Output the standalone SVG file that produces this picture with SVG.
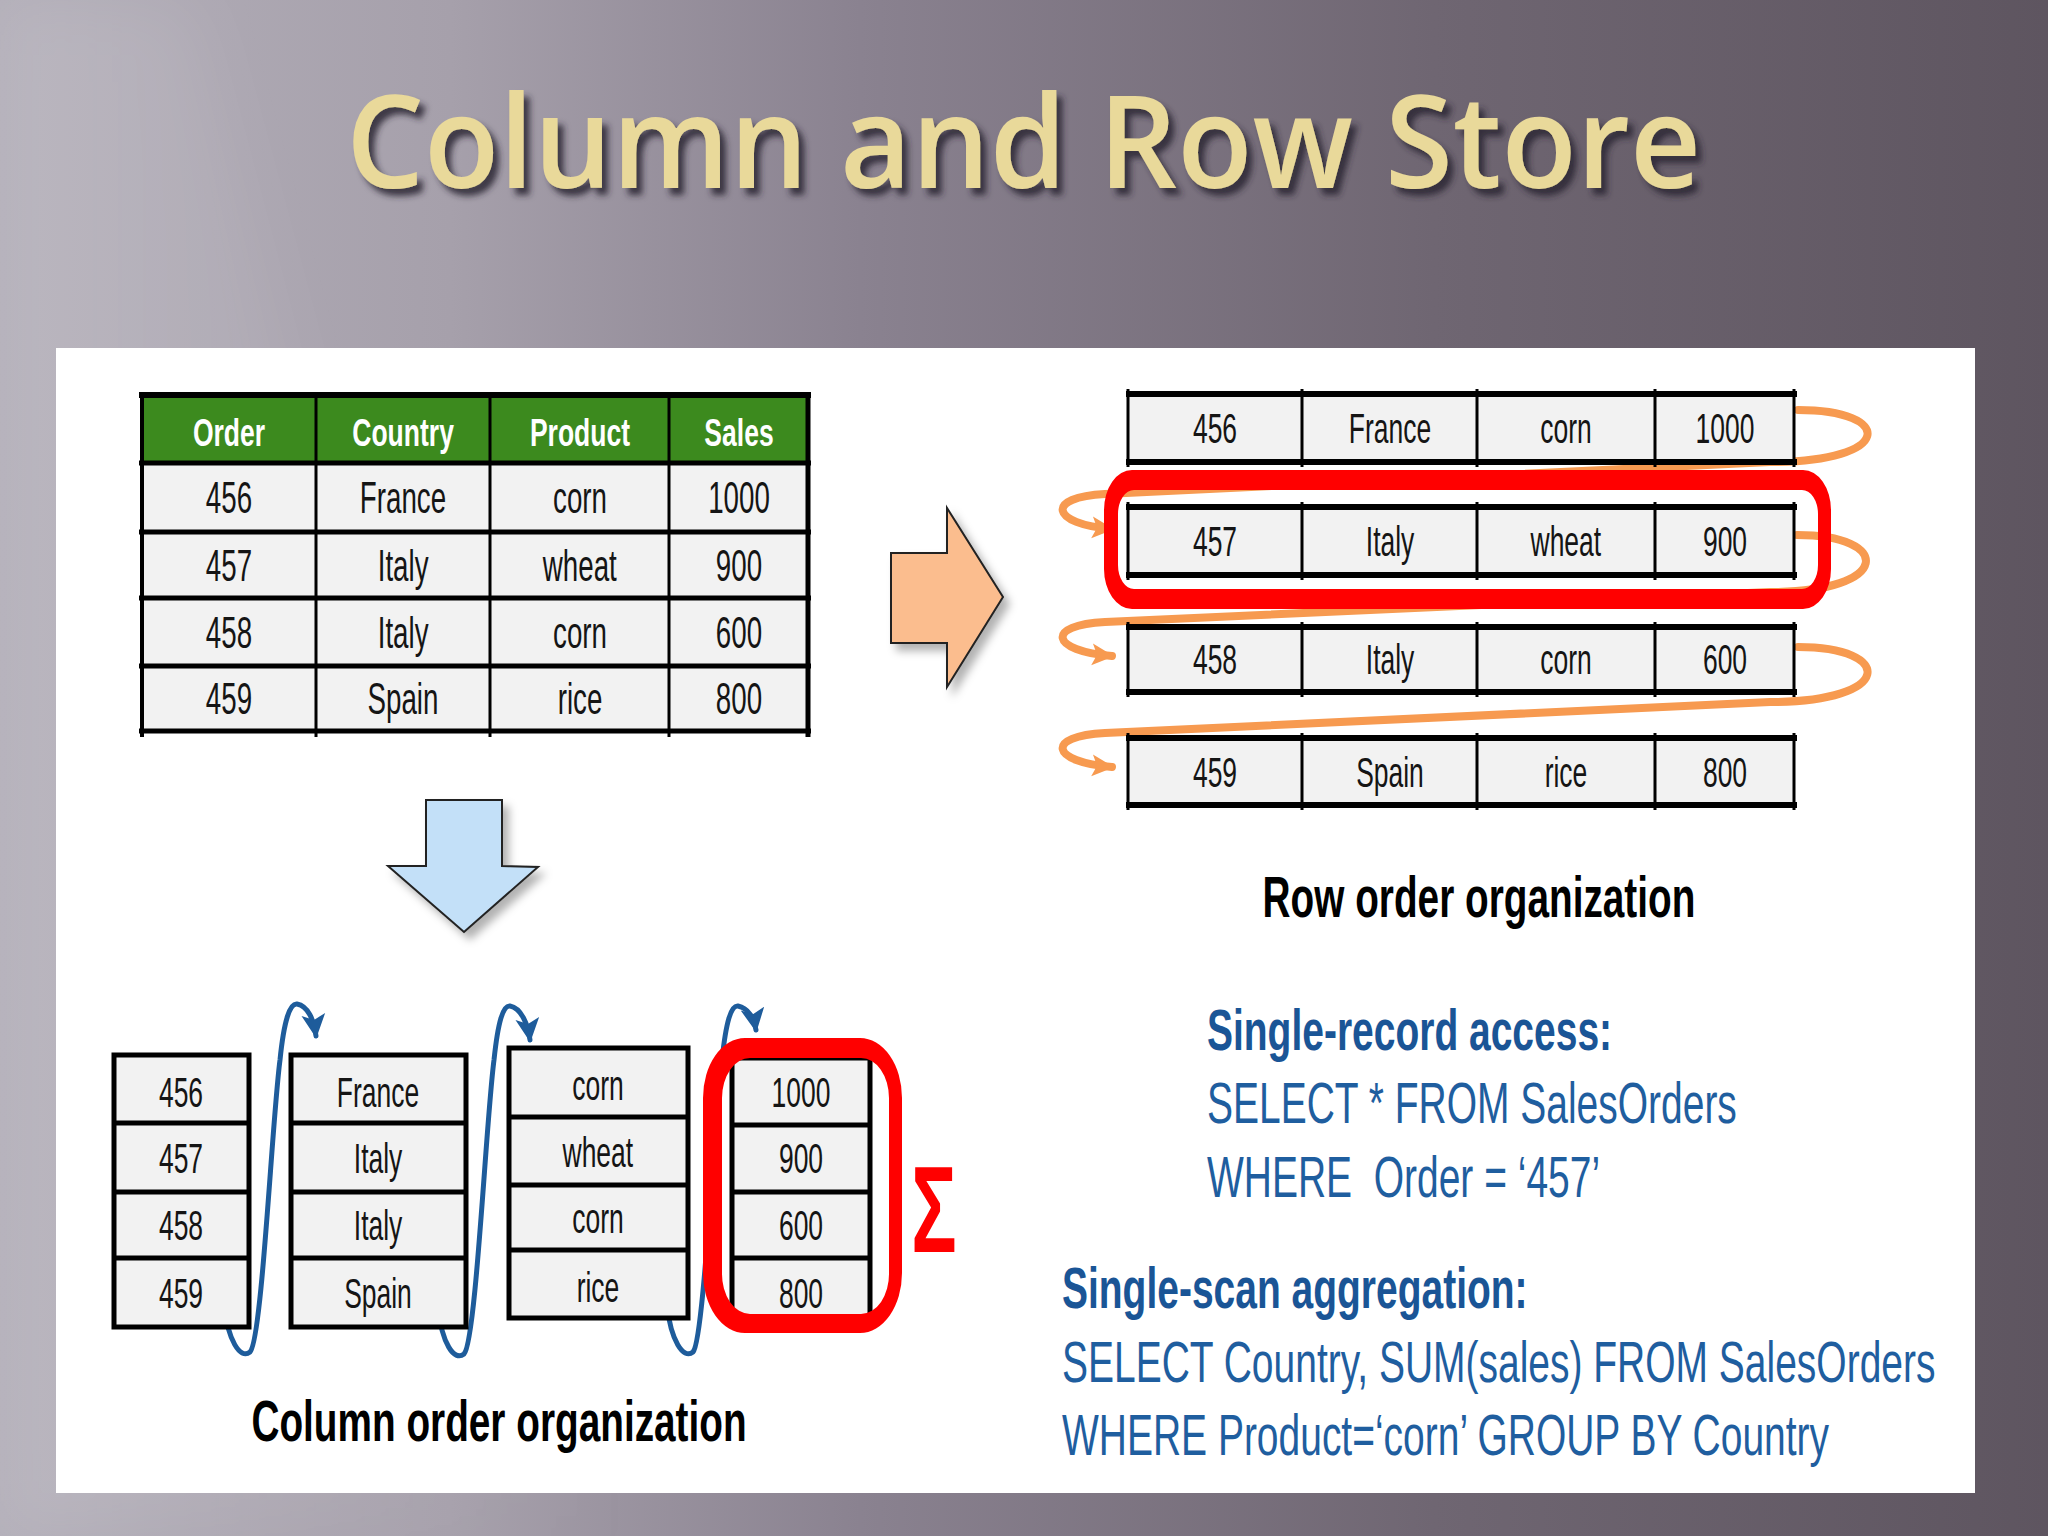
<svg xmlns="http://www.w3.org/2000/svg" width="2048" height="1536" viewBox="0 0 2048 1536">
<defs>
  <linearGradient id="bg" x1="0" y1="0" x2="1" y2="0">
    <stop offset="0" stop-color="#B3AFB9"/>
    <stop offset="0.22" stop-color="#A6A0AB"/>
    <stop offset="0.42" stop-color="#8A8290"/>
    <stop offset="0.7" stop-color="#6F6672"/>
    <stop offset="1" stop-color="#5E5560"/>
  </linearGradient>
  <linearGradient id="band" x1="0" y1="0" x2="1" y2="0">
    <stop offset="0" stop-color="#FFFFFF" stop-opacity="0.10"/>
    <stop offset="1" stop-color="#FFFFFF" stop-opacity="0"/>
  </linearGradient>
  <filter id="blur" x="-20%" y="-20%" width="140%" height="140%"><feGaussianBlur stdDeviation="30"/></filter>
  <filter id="tshadow" x="-5%" y="-20%" width="110%" height="150%">
    <feDropShadow dx="6" dy="7" stdDeviation="3" flood-color="#2A2530" flood-opacity="0.85"/>
  </filter>
  <filter id="ashadow" x="-30%" y="-30%" width="160%" height="160%">
    <feDropShadow dx="6" dy="7" stdDeviation="4" flood-color="#000" flood-opacity="0.3"/>
  </filter>
  <marker id="oarrow" viewBox="0 0 24 24" refX="20" refY="12" markerWidth="24" markerHeight="24" markerUnits="userSpaceOnUse" orient="auto">
    <path d="M0,1 L22,12 L0,23 L5,12 Z" fill="#F79A50"/>
  </marker>
  <marker id="barrow" viewBox="0 0 24 24" refX="20" refY="12" markerWidth="26" markerHeight="26" markerUnits="userSpaceOnUse" orient="auto">
    <path d="M0,1 L22,12 L0,23 L5,12 Z" fill="#1E5C9B"/>
  </marker>
  <style>
    .t { font-family: "Liberation Sans", Arial, sans-serif; transform-box: fill-box; }
    .cell { font-size: 42px; fill: #151515; text-anchor: middle; transform-origin: center; transform: scaleX(0.63); }
    .big { font-size: 44px; }
    .hdr { font-size: 39px; font-weight: bold; fill: #FFFFFF; text-anchor: middle; transform-origin: center; transform: scaleX(0.68); }
    .cap { font-size: 57px; font-weight: bold; fill: #000; text-anchor: middle; transform-origin: center; transform: scaleX(0.68); }
    .sql { font-size: 58px; fill: #1F5E9F; transform-origin: left center; transform: scaleX(0.672); }
    .sqlb { font-weight: bold; fill: #1A5596; }
    .rowfill { fill: #F2F2F2; }
    .hl { stroke: #000; stroke-width: 6; }
    .vl { stroke: #000; stroke-width: 3; }
    .box { fill: #F2F2F2; stroke: #000; stroke-width: 5; }
    .sep { stroke: #000; stroke-width: 5; }
    .oc { fill: none; stroke: #F79A50; stroke-width: 8; stroke-linecap: round; }
    .bc { fill: none; stroke: #1E5C9B; stroke-width: 5; stroke-linecap: round; }
    .ring { fill: #FF0000; fill-rule: evenodd; }
  </style>
</defs>

<!-- background -->
<rect x="0" y="0" width="2048" height="1536" fill="url(#bg)"/>
<polygon points="0,0 190,0 620,1536 0,1536" fill="url(#band)" filter="url(#blur)"/>

<!-- title -->
<text x="346" y="188" textLength="1355" lengthAdjust="spacingAndGlyphs" font-family="'Open Sans', 'Liberation Sans', sans-serif" font-weight="600" font-size="128" fill="#E9D99A" filter="url(#tshadow)">Column and Row Store</text>

<!-- white panel -->
<rect x="56" y="348" width="1919" height="1145" fill="#FFFFFF"/>

<!-- connectors -->
<g id="connectors">
  <path class="oc" d="M1798,410 C1895,410 1895,462 1770,462 L1105,494 C1045,497 1050,524 1112,529" marker-end="url(#oarrow)"/>
  <path class="oc" d="M1797,535 C1893,535 1893,592 1770,592 L1105,622 C1045,625 1050,651 1112,656" marker-end="url(#oarrow)"/>
  <path class="oc" d="M1798,647 C1895,647 1895,702 1770,702 L1105,733 C1045,736 1050,762 1112,767" marker-end="url(#oarrow)"/>
  <path class="bc" d="M224,1305 C228,1340 240,1360 250,1352 C262,1340 272,1120 280,1060 C284,1020 290,1003 297,1004 C308,1006 314,1020 316,1036" marker-end="url(#barrow)"/>
  <path class="bc" d="M438,1308 C442,1343 454,1362 464,1354 C476,1342 486,1120 494,1060 C498,1022 503,1005 510,1006 C521,1008 528,1024 530,1040" marker-end="url(#barrow)"/>
  <path class="bc" d="M667,1306 C671,1340 683,1360 693,1352 C704,1340 714,1120 722,1060 C726,1022 731,1005 738,1006 C748,1008 754,1018 756,1030" marker-end="url(#barrow)"/>
</g>

<!-- source table -->
<g id="source-table">
  <rect x="141" y="395" width="667" height="68" fill="#3C8A1E"/>
  <rect x="141" y="463" width="667" height="268" class="rowfill"/>
  <line class="hl" x1="139" y1="395" x2="811" y2="395"/>
  <line class="hl" x1="139" y1="463" x2="811" y2="463" style="stroke-width:5"/>
  <line class="hl" x1="139" y1="532" x2="811" y2="532" style="stroke-width:5"/>
  <line class="hl" x1="139" y1="598" x2="811" y2="598" style="stroke-width:5"/>
  <line class="hl" x1="139" y1="666" x2="811" y2="666" style="stroke-width:5"/>
  <line class="hl" x1="139" y1="731" x2="811" y2="731" style="stroke-width:5"/>
  <line class="vl" x1="142" y1="392" x2="142" y2="737" style="stroke-width:4"/>
  <line class="vl" x1="316" y1="392" x2="316" y2="737"/>
  <line class="vl" x1="490" y1="392" x2="490" y2="737"/>
  <line class="vl" x1="669" y1="392" x2="669" y2="737"/>
  <line class="vl" x1="808" y1="392" x2="808" y2="737" style="stroke-width:5"/>
  <text class="t hdr" x="229" y="446">Order</text>
  <text class="t hdr" x="403" y="446">Country</text>
  <text class="t hdr" x="580" y="446">Product</text>
  <text class="t hdr" x="739" y="446">Sales</text>
  <text class="t cell big" x="229" y="513">456</text>
  <text class="t cell big" x="403" y="513">France</text>
  <text class="t cell big" x="580" y="513">corn</text>
  <text class="t cell big" x="739" y="513">1000</text>
  <text class="t cell big" x="229" y="581">457</text>
  <text class="t cell big" x="403" y="581">Italy</text>
  <text class="t cell big" x="580" y="581">wheat</text>
  <text class="t cell big" x="739" y="581">900</text>
  <text class="t cell big" x="229" y="648">458</text>
  <text class="t cell big" x="403" y="648">Italy</text>
  <text class="t cell big" x="580" y="648">corn</text>
  <text class="t cell big" x="739" y="648">600</text>
  <text class="t cell big" x="229" y="714">459</text>
  <text class="t cell big" x="403" y="714">Spain</text>
  <text class="t cell big" x="580" y="714">rice</text>
  <text class="t cell big" x="739" y="714">800</text>
</g>

<!-- transform arrows -->
<g id="arrow-right">
  <polygon points="891,553 947,553 947,508 1003,597 947,687 947,643 891,643" fill="#FBBD8E" stroke="#222" stroke-width="2" filter="url(#ashadow)"/>
</g>
<g id="arrow-down">
  <polygon points="426,800 502,800 502,866 538,867 464,932 388,866 426,866" fill="#C3E0F8" stroke="#222" stroke-width="2" filter="url(#ashadow)"/>
</g>

<!-- row store -->
<g id="row-456">
  <rect x="1128" y="394" width="666" height="68" class="rowfill"/>
  <line class="hl" x1="1126" y1="394" x2="1797" y2="394"/>
  <line class="hl" x1="1126" y1="462" x2="1797" y2="462"/>
  <line class="vl" x1="1128" y1="389" x2="1128" y2="467"/>
  <line class="vl" x1="1302" y1="389" x2="1302" y2="467"/>
  <line class="vl" x1="1477" y1="389" x2="1477" y2="467"/>
  <line class="vl" x1="1655" y1="389" x2="1655" y2="467"/>
  <line class="vl" x1="1794" y1="389" x2="1794" y2="467"/>
  <text class="t cell" x="1215" y="443">456</text>
  <text class="t cell" x="1390" y="443">France</text>
  <text class="t cell" x="1566" y="443">corn</text>
  <text class="t cell" x="1725" y="443">1000</text>
</g>
<g id="row-457">
  <rect x="1128" y="507" width="666" height="68" class="rowfill"/>
  <line class="hl" x1="1126" y1="507" x2="1797" y2="507"/>
  <line class="hl" x1="1126" y1="575" x2="1797" y2="575"/>
  <line class="vl" x1="1128" y1="502" x2="1128" y2="580"/>
  <line class="vl" x1="1302" y1="502" x2="1302" y2="580"/>
  <line class="vl" x1="1477" y1="502" x2="1477" y2="580"/>
  <line class="vl" x1="1655" y1="502" x2="1655" y2="580"/>
  <line class="vl" x1="1794" y1="502" x2="1794" y2="580"/>
  <text class="t cell" x="1215" y="556">457</text>
  <text class="t cell" x="1390" y="556">Italy</text>
  <text class="t cell" x="1566" y="556">wheat</text>
  <text class="t cell" x="1725" y="556">900</text>
</g>
<g id="row-458">
  <rect x="1128" y="627" width="666" height="65" class="rowfill"/>
  <line class="hl" x1="1126" y1="627" x2="1797" y2="627"/>
  <line class="hl" x1="1126" y1="692" x2="1797" y2="692"/>
  <line class="vl" x1="1128" y1="622" x2="1128" y2="697"/>
  <line class="vl" x1="1302" y1="622" x2="1302" y2="697"/>
  <line class="vl" x1="1477" y1="622" x2="1477" y2="697"/>
  <line class="vl" x1="1655" y1="622" x2="1655" y2="697"/>
  <line class="vl" x1="1794" y1="622" x2="1794" y2="697"/>
  <text class="t cell" x="1215" y="674">458</text>
  <text class="t cell" x="1390" y="674">Italy</text>
  <text class="t cell" x="1566" y="674">corn</text>
  <text class="t cell" x="1725" y="674">600</text>
</g>
<g id="row-459">
  <rect x="1128" y="738" width="666" height="67" class="rowfill"/>
  <line class="hl" x1="1126" y1="738" x2="1797" y2="738"/>
  <line class="hl" x1="1126" y1="805" x2="1797" y2="805"/>
  <line class="vl" x1="1128" y1="733" x2="1128" y2="810"/>
  <line class="vl" x1="1302" y1="733" x2="1302" y2="810"/>
  <line class="vl" x1="1477" y1="733" x2="1477" y2="810"/>
  <line class="vl" x1="1655" y1="733" x2="1655" y2="810"/>
  <line class="vl" x1="1794" y1="733" x2="1794" y2="810"/>
  <text class="t cell" x="1215" y="787">459</text>
  <text class="t cell" x="1390" y="787">Spain</text>
  <text class="t cell" x="1566" y="787">rice</text>
  <text class="t cell" x="1725" y="787">800</text>
</g>
<g id="row-highlight">
  <path class="ring" d="M1132,470 H1803 A28,40 0 0 1 1831,510 V569 A28,40 0 0 1 1803,609 H1132 A28,40 0 0 1 1104,569 V510 A28,40 0 0 1 1132,470 Z M1134,490 H1802 A16,24 0 0 1 1818,514 V565 A16,24 0 0 1 1802,589 H1134 A16,24 0 0 1 1118,565 V514 A16,24 0 0 1 1134,490 Z"/>
</g>
<g id="row-caption">
  <text class="t cap" x="1479" y="917">Row order organization</text>
</g>

<!-- column store -->
<g id="col-order">
  <rect x="114" y="1055" width="135" height="272" class="box"/>
  <line class="sep" x1="114" y1="1123" x2="249" y2="1123"/>
  <line class="sep" x1="114" y1="1192" x2="249" y2="1192"/>
  <line class="sep" x1="114" y1="1258" x2="249" y2="1258"/>
  <text class="t cell" x="181" y="1107">456</text>
  <text class="t cell" x="181" y="1173">457</text>
  <text class="t cell" x="181" y="1240">458</text>
  <text class="t cell" x="181" y="1308">459</text>
</g>
<g id="col-country">
  <rect x="291" y="1055" width="175" height="272" class="box"/>
  <line class="sep" x1="291" y1="1123" x2="466" y2="1123"/>
  <line class="sep" x1="291" y1="1192" x2="466" y2="1192"/>
  <line class="sep" x1="291" y1="1258" x2="466" y2="1258"/>
  <text class="t cell" x="378" y="1107">France</text>
  <text class="t cell" x="378" y="1173">Italy</text>
  <text class="t cell" x="378" y="1240">Italy</text>
  <text class="t cell" x="378" y="1308">Spain</text>
</g>
<g id="col-product">
  <rect x="509" y="1048" width="179" height="270" class="box"/>
  <line class="sep" x1="509" y1="1117" x2="688" y2="1117"/>
  <line class="sep" x1="509" y1="1185" x2="688" y2="1185"/>
  <line class="sep" x1="509" y1="1250" x2="688" y2="1250"/>
  <text class="t cell" x="598" y="1100">corn</text>
  <text class="t cell" x="598" y="1167">wheat</text>
  <text class="t cell" x="598" y="1233">corn</text>
  <text class="t cell" x="598" y="1302">rice</text>
</g>
<g id="col-sales">
  <rect x="732" y="1058" width="138" height="262" class="box"/>
  <line class="sep" x1="732" y1="1125" x2="870" y2="1125"/>
  <line class="sep" x1="732" y1="1192" x2="870" y2="1192"/>
  <line class="sep" x1="732" y1="1258" x2="870" y2="1258"/>
  <text class="t cell" x="801" y="1107">1000</text>
  <text class="t cell" x="801" y="1173">900</text>
  <text class="t cell" x="801" y="1240">600</text>
  <text class="t cell" x="801" y="1308">800</text>
</g>
<g id="col-highlight">
  <path class="ring" d="M745,1038 H860 A42,60 0 0 1 902,1098 V1273 A42,60 0 0 1 860,1333 H745 A42,60 0 0 1 703,1273 V1098 A42,60 0 0 1 745,1038 Z M750,1058 H861 A28,40 0 0 1 889,1098 V1273 A28,40 0 0 1 861,1314 H750 A28,40 0 0 1 722,1273 V1098 A28,40 0 0 1 750,1058 Z"/>
</g>
<g id="sigma">
  <text class="t" x="934" y="1252" font-family="'Liberation Serif', 'Times New Roman', serif" font-weight="bold" font-size="122" fill="#FF0000" text-anchor="middle" style="transform-origin:center;transform:scaleX(0.62)">Σ</text>
</g>
<g id="col-caption">
  <text class="t cap" x="499" y="1441">Column order organization</text>
</g>

<!-- queries -->
<g id="query-single-record">
  <text class="t sql sqlb" x="1207" y="1050">Single-record access:</text>
  <text class="t sql" x="1207" y="1123">SELECT * FROM SalesOrders</text>
  <text class="t sql" x="1207" y="1197" xml:space="preserve">WHERE  Order = ‘457’</text>
</g>
<g id="query-single-scan">
  <text class="t sql sqlb" x="1062" y="1308">Single-scan aggregation:</text>
  <text class="t sql" x="1062" y="1382">SELECT Country, SUM(sales) FROM SalesOrders</text>
  <text class="t sql" x="1062" y="1455">WHERE Product=‘corn’ GROUP BY Country</text>
</g>
</svg>
